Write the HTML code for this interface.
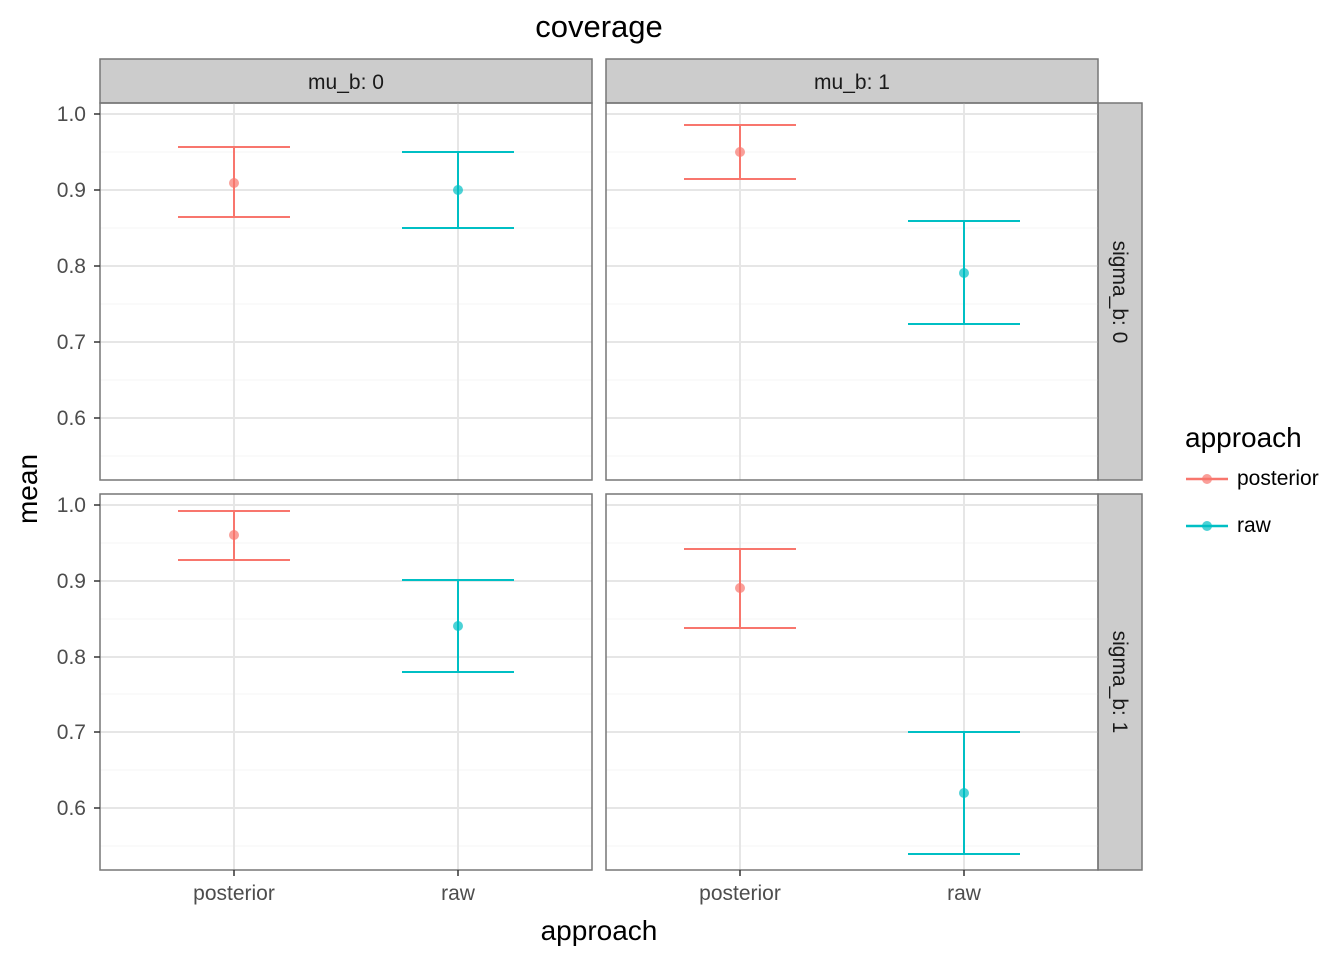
<!DOCTYPE html>
<html><head><style>body{margin:0;background:#fff}svg{display:block}text{font-family:"Liberation Sans",sans-serif}</style></head><body>
<svg width="1344" height="960" xmlns="http://www.w3.org/2000/svg">
<rect width="1344" height="960" fill="#fff"/>
<text x="599" y="37" font-size="31" text-anchor="middle">coverage</text>
<rect x="100" y="59" width="492" height="44" fill="#ccc" stroke="#777" stroke-width="1.5"/>
<rect x="606" y="59" width="492" height="44" fill="#ccc" stroke="#777" stroke-width="1.5"/>
<text x="346" y="89" font-size="21" text-anchor="middle" fill="#1a1a1a">mu_b: 0</text>
<text x="852" y="89" font-size="21" text-anchor="middle" fill="#1a1a1a">mu_b: 1</text>
<rect x="1098" y="103" width="44" height="377" fill="#ccc" stroke="#777" stroke-width="1.5"/>
<rect x="1098" y="494" width="44" height="376" fill="#ccc" stroke="#777" stroke-width="1.5"/>
<text transform="translate(1113,292) rotate(90)" font-size="21" text-anchor="middle" fill="#1a1a1a">sigma_b: 0</text>
<text transform="translate(1113,682) rotate(90)" font-size="21" text-anchor="middle" fill="#1a1a1a">sigma_b: 1</text>
<g fill="none">
<g stroke="#f4f4f4" stroke-width="1">
<path d="M100 152H592M100 228H592M100 304H592M100 380H592M100 456H592M606 152H1098M606 228H1098M606 304H1098M606 380H1098M606 456H1098"/>
<path d="M100 543H592M100 619H592M100 694H592M100 770H592M100 846H592M606 543H1098M606 619H1098M606 694H1098M606 770H1098M606 846H1098"/>
</g>
<g stroke="#e6e6e6" stroke-width="2">
<path d="M100 114H592M100 190H592M100 266H592M100 342H592M100 418H592M606 114H1098M606 190H1098M606 266H1098M606 342H1098M606 418H1098"/>
<path d="M100 505H592M100 581H592M100 657H592M100 732H592M100 808H592M606 505H1098M606 581H1098M606 657H1098M606 732H1098M606 808H1098"/>
<path d="M234 103V480M458 103V480M740 103V480M964 103V480M234 494V870M458 494V870M740 494V870M964 494V870"/>
</g>
</g>
<g stroke-width="2" fill="none">
<path stroke="#F8766D" d="M178 147H290M234 147V217M178 217H290"/>
<path stroke="#00BFC4" d="M402 152H514M458 152V228M402 228H514"/>
<path stroke="#F8766D" d="M684 125H796M740 125V179M684 179H796"/>
<path stroke="#00BFC4" d="M908 221H1020M964 221V324M908 324H1020"/>
<path stroke="#F8766D" d="M178 511H290M234 511V560M178 560H290"/>
<path stroke="#00BFC4" d="M402 580H514M458 580V672M402 672H514"/>
<path stroke="#F8766D" d="M684 549H796M740 549V628M684 628H796"/>
<path stroke="#00BFC4" d="M908 732H1020M964 732V854M908 854H1020"/>
</g>
<g opacity="0.7">
<circle cx="234" cy="183" r="5" fill="#F8766D"/><circle cx="458" cy="190" r="5" fill="#00BFC4"/>
<circle cx="740" cy="152" r="5" fill="#F8766D"/><circle cx="964" cy="273" r="5" fill="#00BFC4"/>
<circle cx="234" cy="535" r="5" fill="#F8766D"/><circle cx="458" cy="626" r="5" fill="#00BFC4"/>
<circle cx="740" cy="588" r="5" fill="#F8766D"/><circle cx="964" cy="793" r="5" fill="#00BFC4"/>
</g>
<g fill="none" stroke="#777" stroke-width="1.5">
<rect x="100" y="103" width="492" height="377"/><rect x="606" y="103" width="492" height="377"/>
<rect x="100" y="494" width="492" height="376"/><rect x="606" y="494" width="492" height="376"/>
</g>
<g font-size="21" fill="#4d4d4d" text-anchor="end">
<text x="86" y="121">1.0</text><text x="86" y="197">0.9</text><text x="86" y="273">0.8</text><text x="86" y="349">0.7</text><text x="86" y="425">0.6</text>
<text x="86" y="512">1.0</text><text x="86" y="588">0.9</text><text x="86" y="664">0.8</text><text x="86" y="739">0.7</text><text x="86" y="815">0.6</text>
</g>
<g stroke="#333" stroke-width="1.5">
<path d="M94 114H100M94 190H100M94 266H100M94 342H100M94 418H100M94 505H100M94 581H100M94 657H100M94 732H100M94 808H100"/>
<path d="M234 870V876M458 870V876M740 870V876M964 870V876"/>
</g>
<g font-size="21" fill="#4d4d4d" text-anchor="middle">
<text x="234" y="900">posterior</text><text x="458" y="900">raw</text><text x="740" y="900">posterior</text><text x="964" y="900">raw</text>
</g>
<text x="599" y="940" font-size="28" text-anchor="middle">approach</text>
<text transform="translate(37,489) rotate(-90)" font-size="28" text-anchor="middle">mean</text>
<text x="1185" y="447" font-size="28">approach</text>
<path d="M1186 479H1228" stroke="#F8766D" stroke-width="2.5"/><circle cx="1207" cy="479" r="5" fill="#F8766D" opacity="0.7"/>
<path d="M1186 526H1228" stroke="#00BFC4" stroke-width="2.5"/><circle cx="1207" cy="526" r="5" fill="#00BFC4" opacity="0.7"/>
<text x="1237" y="485" font-size="21">posterior</text>
<text x="1237" y="532" font-size="21">raw</text>
</svg>
</body></html>
